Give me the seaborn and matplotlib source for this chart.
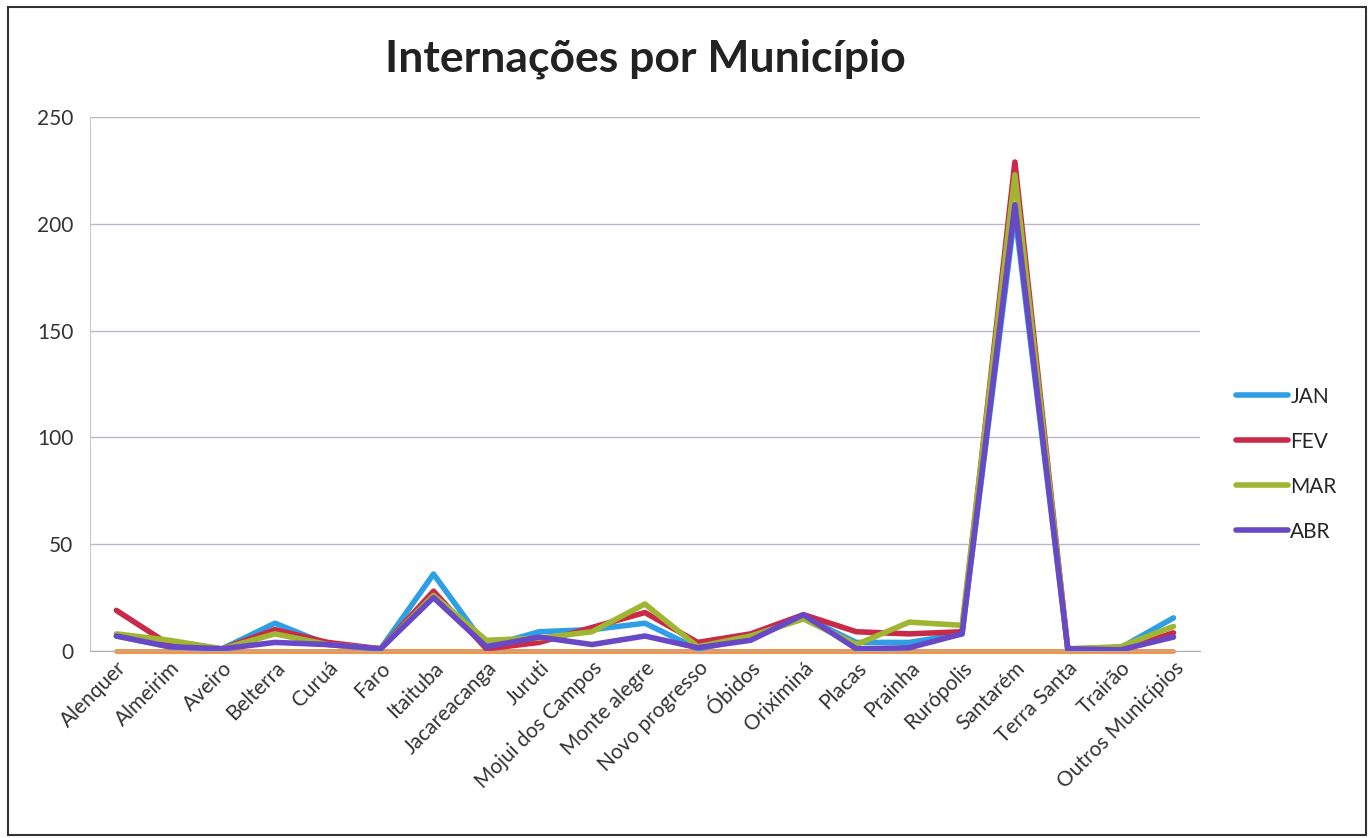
import matplotlib
matplotlib.use("Agg")
import matplotlib.pyplot as plt
import numpy as np
import pandas as pd
import seaborn as sns

# Data
MUNICIPIOS = [
    "Alenquer", "Almeirim", "Aveiro", "Belterra", "Curuá", "Faro", "Itaituba",
    "Jacareacanga", "Juruti", "Mojui dos Campos", "Monte alegre",
    "Novo progresso", "Óbidos", "Oriximiná", "Placas", "Prainha", "Rurópolis",
    "Santarém", "Terra Santa", "Trairão", "Outros Municípios",
]
JAN = [7, 2, 1, 13, 3, 1, 36, 2, 9, 10, 13, 1, 6, 16, 4, 4, 8, 205, 1, 1.5, 15.5]
FEV = [19, 3, 1, 10, 4, 1, 28, 1, 4, 11, 18, 4, 8, 17, 9, 8, 9, 229, 1, 0.5, 8.5]
MAR = [8, 5, 1, 8, 3, 1, 26, 5, 6, 9, 22, 2, 7, 15, 3, 13.5, 12, 223, 1, 2, 11.5]
ABR = [7, 2, 1, 4, 3, 1, 25, 2, 6.5, 3, 7, 1.5, 5, 17, 1, 1.5, 8, 209, 1, 0.5, 6.5]
OUTRO = [0] * len(MUNICIPIOS)  # orange series sitting on zero, not in legend

MESES = ["JAN", "FEV", "MAR", "ABR"]
PALETTE = {"JAN": "#2E9FE4", "FEV": "#C82A48", "MAR": "#A0B532", "ABR": "#6948C6"}
ORANGE = "#F5913E"

sns.set_style("white")
plt.rcParams["font.family"] = ["Lato", "DejaVu Sans"]

df = pd.DataFrame({"Município": MUNICIPIOS, "JAN": JAN, "FEV": FEV, "MAR": MAR, "ABR": ABR})
long = df.melt(id_vars="Município", var_name="Mês", value_name="Internações")
zero = pd.DataFrame({"Município": MUNICIPIOS, "v": OUTRO})

fig = plt.figure(figsize=(13.71, 8.38), dpi=100)
ax = fig.add_axes([0.0656, 0.2232, 0.8096, 0.637])

sns.lineplot(data=long, x="Município", y="Internações", hue="Mês",
             hue_order=MESES, palette=PALETTE, sort=False, linewidth=4,
             ax=ax)
sns.lineplot(data=zero, x="Município", y="v", color=ORANGE, sort=False,
             linewidth=3.5, ax=ax, legend=False, zorder=1.5, clip_on=False)

ax.set_xlim(-0.5, len(MUNICIPIOS) - 0.5)
ax.set_ylim(0, 250)
ax.set_yticks(np.arange(0, 251, 50))
ax.yaxis.grid(True, color="#B8B8CC", linewidth=1)
ax.set_axisbelow(True)
ax.set_xlabel("")
ax.set_ylabel("")
ax.tick_params(axis="both", length=0, labelsize=15, colors="#333333", pad=12)
ax.tick_params(axis="x", pad=5)
plt.setp(ax.get_xticklabels(), rotation=45, ha="right", rotation_mode="anchor")
for side in ["top", "right"]:
    ax.spines[side].set_visible(False)
ax.spines["left"].set_color("#C8C8D8")
ax.spines["bottom"].set_color("#B0B0B0")

ax.set_title("Internações por Município", fontsize=32, fontweight="bold",
             color="#222222", y=1.07)

leg = ax.legend(loc="center left", bbox_to_anchor=(0.888, 0.446),
                bbox_transform=fig.transFigure, frameon=False, fontsize=15,
                handlelength=2.5, handletextpad=0.1, labelspacing=1.2)
for line in leg.get_lines():
    line.set_linewidth(4)

fig.patches.append(plt.Rectangle((0.006, 0.004), 0.99, 0.988,
                                 transform=fig.transFigure, fill=False,
                                 edgecolor="#333333", linewidth=1.5))

fig.savefig("out.png", dpi=100)
